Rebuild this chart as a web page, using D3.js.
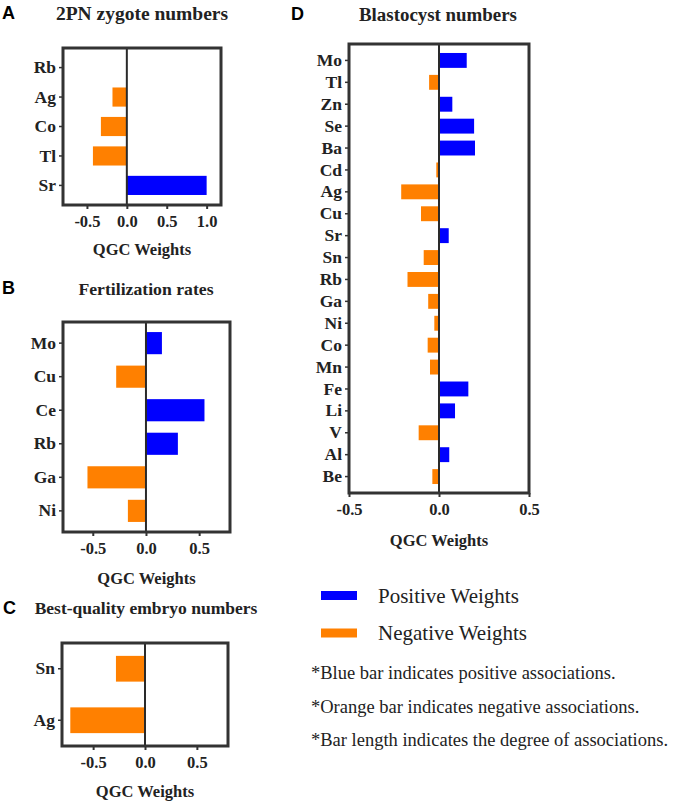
<!DOCTYPE html>
<html><head><meta charset="utf-8">
<script src="https://cdn.jsdelivr.net/npm/d3@7/dist/d3.min.js"></script>
<style>
body{margin:0;background:#fff;}
svg{display:block;}
</style></head>
<body>
<svg id="chart" width="673" height="804"></svg>
<script>
// ---------- DATA ----------
const catsA = ["Rb","Ag","Co","Tl","Sr"];
const valsA = [-0.01,-0.18,-0.325,-0.425,1.0];
const ticksA = [-0.5,0.0,0.5,1.0];

const catsB = ["Mo","Cu","Ce","Rb","Ga","Ni"];
const valsB = [0.15,-0.28,0.55,0.30,-0.55,-0.17];
const ticksB = [-0.5,0.0,0.5];

const catsC = ["Sn","Ag"];
const valsC = [-0.28,-0.72];
const ticksC = [-0.5,0.0,0.5];

const catsD = ["Mo","Tl","Zn","Se","Ba","Cd","Ag","Cu","Sr","Sn","Rb","Ga","Ni","Co","Mn","Fe","Li","V","Al","Be"];
const valsD = [0.154,-0.055,0.074,0.195,0.2,-0.015,-0.21,-0.1,0.054,-0.085,-0.175,-0.06,-0.026,-0.063,-0.05,0.163,0.089,-0.113,0.057,-0.037];
const ticksD = [-0.5,0.0,0.5];

const titles = ["2PN zygote numbers","Fertilization rates","Best-quality embryo numbers","Blastocyst numbers"];
const letters = ["A","B","C","D"];
const xLabel = "QGC Weights";
const legendLabels = ["Positive Weights","Negative Weights"];
const notes = ["*Blue bar indicates positive associations.","*Orange bar indicates negative associations.","*Bar length indicates the degree of associations."];

const POS = "#0000ff", NEG = "#ff8000";
const SERIF = "'Liberation Serif','Times New Roman',serif";
const SANS = "'Liberation Sans',Arial,sans-serif";
const svg = d3.select("#chart");

function panel(cfg){
  const g = svg.append("g");
  const x = d3.scaleLinear().domain(cfg.domain).range([cfg.left, cfg.right]);
  const y = d3.scaleBand().domain(cfg.cats).range([cfg.top, cfg.bottom])
              .paddingInner(cfg.pi).paddingOuter(cfg.po);
  const data = cfg.cats.map((c,i)=>({c, v: cfg.vals[i]}));
  g.selectAll("rect.bar").data(data).join("rect").attr("class","bar")
    .attr("x", d=>x(Math.min(0,d.v)))
    .attr("width", d=>Math.abs(x(d.v)-x(0)))
    .attr("y", d=>y(d.c)).attr("height", y.bandwidth())
    .attr("fill", d=>d.v>=0?POS:NEG);
  g.append("line").attr("x1",x(0)).attr("x2",x(0)).attr("y1",cfg.top).attr("y2",cfg.bottom)
    .attr("stroke","#2a2a2a").attr("stroke-width",2);
  g.append("rect").attr("x",cfg.left).attr("y",cfg.top)
    .attr("width",cfg.right-cfg.left).attr("height",cfg.bottom-cfg.top)
    .attr("fill","none").attr("stroke","#333").attr("stroke-width",3);
  const xa = g.append("g").attr("transform",`translate(0,${cfg.bottom})`)
    .call(d3.axisBottom(x).tickValues(cfg.ticks).tickFormat(d=>d.toFixed(1)).tickSize(4).tickPadding(6));
  xa.attr("font-family",null).attr("font-size",null);
  xa.select(".domain").remove();
  xa.selectAll(".tick line").attr("stroke","#333").attr("stroke-width",2);
  xa.selectAll(".tick text").style("font-family",SERIF).style("font-weight","bold")
    .style("font-size","16.5px").attr("fill","#222");
  const ya = g.append("g").attr("transform",`translate(${cfg.left},0)`)
    .call(d3.axisLeft(y).tickSize(4).tickPadding(3));
  ya.attr("font-family",null).attr("font-size",null);
  ya.select(".domain").remove();
  ya.selectAll(".tick line").attr("stroke","#333").attr("stroke-width",1.5);
  ya.selectAll(".tick text").style("font-family",SERIF).style("font-weight","bold")
    .style("font-size","17.5px").attr("fill","#222");
  g.append("text").attr("x",(cfg.left+cfg.right)/2).attr("y",cfg.bottom+cfg.labOff)
    .attr("text-anchor","middle").attr("dominant-baseline","central").attr("fill","#222")
    .style("font-family",SERIF).style("font-weight","bold").style("font-size","16.5px").text(xLabel);
  g.append("text").attr("x",cfg.tx).attr("y",cfg.ty).attr("text-anchor","middle").attr("fill","#222")
    .attr("dominant-baseline","central").style("font-family",SERIF).style("font-weight","bold")
    .style("font-size",cfg.tfs+"px").text(cfg.title);
  g.append("text").attr("x",cfg.lx).attr("y",cfg.ly).attr("dominant-baseline","central")
    .style("font-family",SANS).style("font-weight","bold")
    .style("font-size","18px").attr("fill","#000").text(cfg.letter);
}

panel({cats:catsA, vals:valsA, ticks:ticksA, domain:[-0.8,1.18], left:63, right:221, top:48, bottom:205,
  pi:0.35, po:0.34, labOff:44, title:titles[0], tfs:19.5, tx:142, ty:13, letter:letters[0], lx:2, ly:13});
panel({cats:catsB, vals:valsB, ticks:ticksB, domain:[-0.78,0.79], left:63, right:230, top:322, bottom:532,
  pi:0.34, po:0.3, labOff:46, title:titles[1], tfs:17.7, tx:146, ty:289, letter:letters[1], lx:2, ly:288});
panel({cats:catsC, vals:valsC, ticks:ticksC, domain:[-0.8,0.8], left:62, right:228, top:643, bottom:746,
  pi:0.5, po:0.25, labOff:45, title:titles[2], tfs:17.5, tx:146, ty:608, letter:letters[2], lx:3, ly:608});
panel({cats:catsD, vals:valsD, ticks:ticksD, domain:[-0.5,0.5], left:349, right:529, top:44, bottom:493,
  pi:0.32, po:0.41, labOff:47, title:titles[3], tfs:18.9, tx:438, ty:14, letter:letters[3], lx:291, ly:14});

// legend
const lg = svg.append("g");
const lcol = [POS, NEG];
const lyPos = [595.5, 633];
legendLabels.forEach((t,i)=>{
  lg.append("rect").attr("x",321).attr("y",lyPos[i]-4.5).attr("width",36).attr("height",9).attr("fill",lcol[i]);
  lg.append("text").attr("x",378).attr("y",lyPos[i]).attr("dominant-baseline","central").attr("fill","#222")
    .style("font-family",SERIF).style("font-size","21px").text(t);
});
const noteY = [673, 706.5, 740];
notes.forEach((t,i)=>{
  lg.append("text").attr("x",311).attr("y",noteY[i]).attr("dominant-baseline","central").attr("fill","#222")
    .style("font-family",SERIF).style("font-size","18.5px").text(t);
});
</script>
</body></html>
